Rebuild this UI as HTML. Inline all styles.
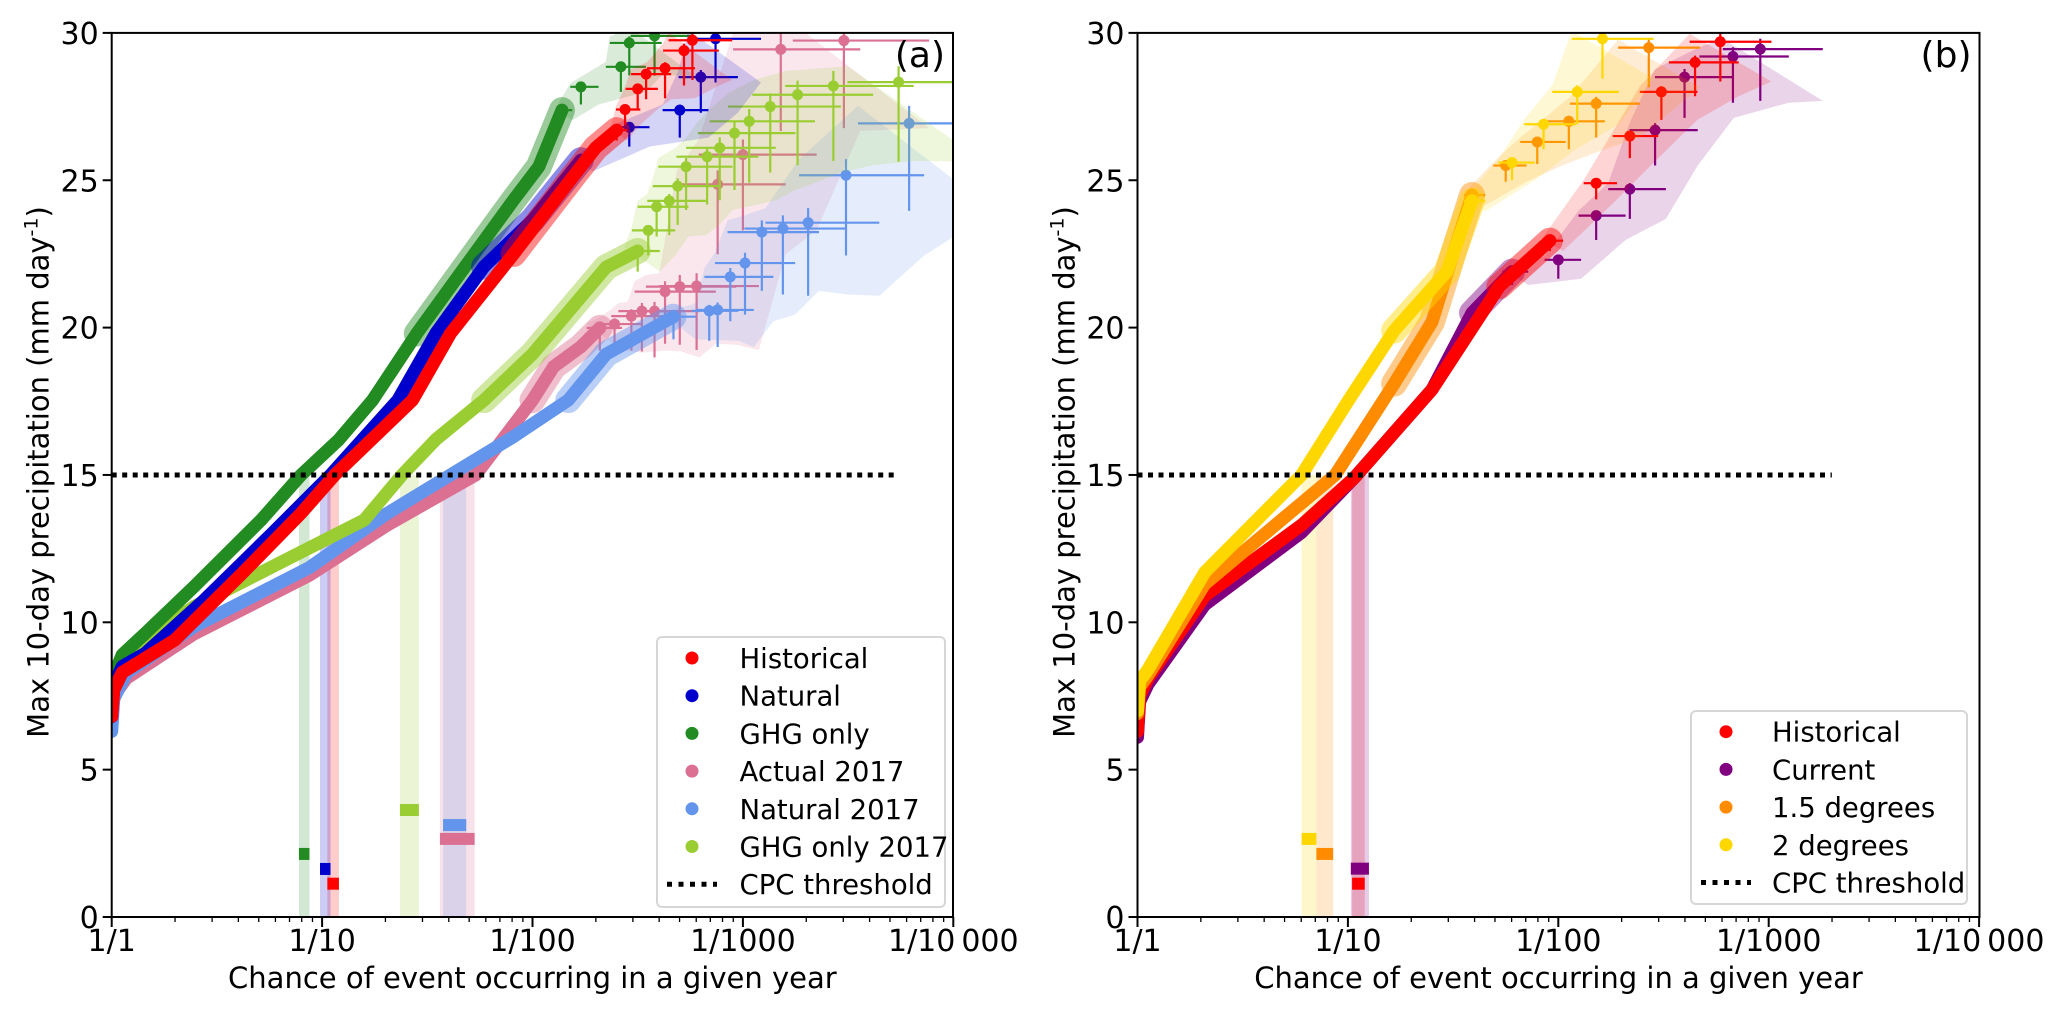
<!DOCTYPE html>
<html><head><meta charset="utf-8">
<style>
html,body{margin:0;padding:0;background:#fff;}
svg{display:block;font-family:"DejaVu Sans","Liberation Sans",sans-serif;}
</style></head>
<body>
<svg id="fig" width="2067" height="1018" viewBox="0 0 2067 1018" xmlns="http://www.w3.org/2000/svg">
<defs>
<clipPath id="clipA"><rect x="111.7" y="33" width="841.3" height="884"/></clipPath>
<clipPath id="clipB"><rect x="1137.5" y="33" width="842" height="884"/></clipPath>
</defs>
</svg>
<script>
// ---------- data: x = log10(return period), y = mm/day ----------
const xTickLabels = ["1/1","1/10","1/100","1/1000","1/10\u2009000"];
const yTickValues = [0,5,10,15,20,25,30];
const threshold = 15;

// Panel (a)
const histA_lp = [0,0.01,0.05,0.3,0.62,0.9,1.06,1.43,1.61,1.91,2.19,2.3,2.4,2.44,2.5,2.54,2.63,2.72,2.76];
const histA_v  = [6.8,7.7,8.3,9.4,11.66,13.7,15,17.54,19.8,22.5,25.1,26.1,26.7,27.4,28.1,28.6,28.8,29.4,29.75];
const natA_lp  = [0,0.01,0.05,0.16,0.44,0.76,1.04,1.36,1.54,1.77,2.0,2.23,2.46,2.7,2.8,2.87];
const natA_v   = [6.8,7.9,8.5,8.95,10.76,13.0,15.0,17.54,19.8,22.07,23.65,25.68,26.8,27.38,28.5,29.8];
const ghgA_lp  = [0,0.01,0.05,0.16,0.39,0.71,0.9,1.08,1.24,1.45,1.68,1.91,2.03,2.14,2.23,2.42,2.46,2.58];
const ghgA_v   = [7.4,8.2,8.9,9.63,11.2,13.47,15,16.2,17.54,19.8,22.07,24.33,25.46,27.38,28.17,28.85,29.66,29.9];
const act17_lp = [0,0.01,0.07,0.39,0.94,1.31,1.73,2.0,2.1,2.23,2.32,2.39,2.47,2.52,2.58,2.63,2.70,2.78,2.88,3.0,3.18,3.48];
const act17_v  = [6.6,7.5,8.1,9.6,11.6,13.3,15,17.54,18.67,19.35,19.99,20.12,20.39,20.56,20.56,21.22,21.39,21.41,24.86,25.87,29.44,29.74];
const nat17_lp = [0,0.01,0.07,0.39,0.94,1.31,1.61,1.91,2.17,2.35,2.67,2.84,2.88,2.94,3.01,3.09,3.19,3.31,3.49,3.79];
const nat17_v  = [6.3,7.4,8.28,9.85,11.86,13.7,15,16.3,17.54,19.1,20.37,20.57,20.6,21.72,22.19,23.24,23.36,23.56,25.17,26.93];
const ghg17_lp = [0,0.01,0.07,0.39,0.85,1.2,1.38,1.54,1.77,2.0,2.35,2.5,2.55,2.59,2.65,2.69,2.73,2.83,2.89,2.96,3.03,3.13,3.26,3.43,3.74];
const ghg17_v  = [7.2,8.0,8.95,10.53,12.2,13.47,15,16.2,17.54,19.1,22.05,22.6,23.3,24.1,24.3,24.8,25.46,25.8,26.1,26.6,27.0,27.5,27.9,28.2,28.33];

// Panel (b)
const histB_lp = [0,0.01,0.05,0.32,0.78,1.03,1.4,1.72,1.96,2.18,2.34,2.49,2.65,2.77];
const histB_v  = [6.3,7.5,8.1,10.9,13.3,14.9,17.9,21.4,22.95,24.9,26.5,28.0,29.0,29.7];
const cur_lp   = [0,0.01,0.05,0.32,0.78,1.03,1.4,1.59,1.78,2.0,2.18,2.34,2.46,2.6,2.83,2.96];
const cur_v    = [6.1,7.3,7.9,10.6,13.05,14.9,17.9,20.5,21.9,22.3,23.8,24.7,26.7,28.5,29.2,29.45];
const d15_lp   = [0,0.01,0.05,0.32,0.94,1.22,1.4,1.5,1.59,1.75,1.9,2.05,2.18,2.43];
const d15_v    = [6.9,7.8,8.2,11.3,15,18.1,20.2,22.5,24.5,25.5,26.3,27.0,27.6,29.5];
const d2_lp    = [0,0.01,0.05,0.32,0.78,1.0,1.22,1.47,1.59,1.78,1.93,2.09,2.21];
const d2_v     = [7.0,8.0,8.4,11.7,15,17.5,19.9,21.9,24.3,25.6,26.9,28,29.8];

// threshold-crossing markers [lpLow, lpHigh, y]
const markA_lo = [1.025,0.99,0.89,1.56,1.575,1.37];
const markA_hi = [1.08,1.04,0.94,1.725,1.685,1.46];
const markA_y  = [1.13,1.63,2.14,2.65,3.12,3.63];
const markB_lo = [1.02,1.014,0.85,0.78];
const markB_hi = [1.08,1.1,0.93,0.85];
const markB_y  = [1.13,1.64,2.14,2.65];

// ---------- layout ----------
const SVGNS="http://www.w3.org/2000/svg";
const svg=document.getElementById('fig');
const Y0=917, PXU=29.47, DEC=210.4;
const panels=[{x0:111.7,x1:953,clip:'clipA'},{x0:1137.5,x1:1979.5,clip:'clipB'}];
function X(p,lp){return p.x0+lp*DEC;}
function Yv(v){return Y0-v*PXU;}
function mk(tag,attrs,parent){const e=document.createElementNS(SVGNS,tag);for(const k in attrs)e.setAttribute(k,attrs[k]);(parent||svg).appendChild(e);return e;}

function drawSeries(p,g,lp,v,color,tailIdx,eH,eV,name,haloFrom){
  const sg=mk('g',{},g);
  
  
  const n=lp.length;
  const grow=t=>0.35+1.0*t;
  // uncertainty envelope
  let up=[],lo=[];
  for(let i=tailIdx;i<n;i++){
    const t=(i-tailIdx)/Math.max(1,n-1-tailIdx);
    const hw=eH*grow(t), vw=eV*grow(t);
    up.push(X(p,lp[i]-hw*0.6)+','+Yv(v[i]+vw*0.2));
    lo.unshift(X(p,lp[i]+hw)+','+Yv(v[i]-vw));
  }
  const env=mk('polygon',{points:up.concat(lo).join(' '),fill:color,'fill-opacity':0.17,stroke:'none'},sg);
  
  
  // halo of dense error bars along the upper thick section
  const hp=[];for(let i=0;i<=tailIdx&&i<n;i++)if(v[i]>=haloFrom)hp.push(X(p,lp[i])+','+Yv(v[i]));
  if(hp.length>1){
    const h=mk('polyline',{points:hp.join(' '),fill:'none',stroke:color,'stroke-width':26,'stroke-opacity':0.45,'stroke-linejoin':'round','stroke-linecap':'round'},sg);
    
    
  }
  // error bars
  for(let i=tailIdx;i<n;i++){
    const t=(i-tailIdx)/Math.max(1,n-1-tailIdx);
    const hw=eH*grow(t), vw=eV*grow(t);
    const x=X(p,lp[i]), y=Yv(v[i]);
    const eb=mk('path',{d:`M${X(p,lp[i]-hw*0.6)},${y}H${X(p,lp[i]+hw)}M${x},${Yv(v[i]+vw*0.2)}V${Yv(v[i]-vw)}`,stroke:color,'stroke-width':2.2,fill:'none'},sg);
    
    
  }
  // main thick curve
  const pts=[];for(let i=0;i<=tailIdx&&i<n;i++)pts.push(X(p,lp[i])+','+Yv(v[i]));
  const pl=mk('polyline',{points:pts.join(' '),fill:'none',stroke:color,'stroke-width':13,'stroke-linejoin':'round','stroke-linecap':'round'},sg);
  
  
  for(let i=tailIdx;i<n;i++){
    const c=mk('circle',{cx:X(p,lp[i]),cy:Yv(v[i]),r:5.5,fill:color},sg);
    
    
  }
}

function drawMarkers(p,g,lo,hi,yy,colors,bandTop,name){
  for(let i=0;i<lo.length;i++){
    const b=mk('rect',{x:X(p,lo[i]),y:Yv(bandTop),width:X(p,hi[i])-X(p,lo[i]),height:Yv(0)-Yv(bandTop),fill:colors[i],'fill-opacity':0.2},g);
    
    
  }
  for(let i=0;i<lo.length;i++){
    const m=mk('rect',{x:X(p,lo[i]),y:Yv(yy[i])-6,width:X(p,hi[i])-X(p,lo[i]),height:12,fill:colors[i]},g);
    
    
  }
}

function drawAxes(p,label){
  const ax=mk('g',{});
  
  
  const fr=mk('rect',{x:p.x0,y:Yv(30),width:p.x1-p.x0,height:Yv(0)-Yv(30),fill:'none',stroke:'#000','stroke-width':2},ax);
  
  
  yTickValues.forEach(v=>{
    mk('line',{x1:p.x0-9,x2:p.x0,y1:Yv(v),y2:Yv(v),stroke:'#000','stroke-width':2},ax);
    const t=mk('text',{x:p.x0-13,y:Yv(v)+11,'font-size':30,'text-anchor':'end',fill:'#000'},ax);
    t.textContent=v;
    
    
  });
  xTickLabels.forEach((s,d)=>{
    const x=X(p,d);
    mk('line',{x1:x,x2:x,y1:Y0,y2:Y0+10,stroke:'#000','stroke-width':2},ax);
    const t=mk('text',{x:x,y:951,'font-size':30,'text-anchor':'middle',fill:'#000'},ax);
    t.textContent=s;
    
    
    if(d<4)for(let k=2;k<10;k++){const xm=X(p,d+Math.log10(k));mk('line',{x1:xm,x2:xm,y1:Y0,y2:Y0+5,stroke:'#000','stroke-width':1.3},ax);}
  });
  const xl=mk('text',{x:(p.x0+p.x1)/2,y:988,'font-size':29,'text-anchor':'middle',fill:'#000'},ax);
  xl.textContent='Chance of event occurring in a given year';
  
  
  const yx=p.x0-63;
  const yl=mk('text',{x:yx,y:472,'font-size':29,'text-anchor':'middle',fill:'#000',transform:`rotate(-90 ${yx} 472)`},ax);
  yl.innerHTML='Max 10-day precipitation (mm day<tspan dy="-11" font-size="19">-1</tspan><tspan dy="11">)</tspan>';
  
  
  const pl=mk('text',{x:p.x1-8,y:67,'font-size':36,'text-anchor':'end',fill:'#000'},ax);
  pl.textContent='('+label+')';
  
  
}

function drawThreshold(p,g,endLp){
  const l=mk('line',{x1:p.x0,x2:X(p,endLp),y1:Yv(threshold),y2:Yv(threshold),stroke:'#000','stroke-width':5,'stroke-dasharray':'5 5.5'},g);
  
  
}

function drawLegend(x,y,w,h,rowY0,names,colors,mx,tx){
  const g=mk('g',{});
  
  
  mk('rect',{x:x,y:y,width:w,height:h,rx:5,fill:'#fff','fill-opacity':0.85,stroke:'#d6d6d6','stroke-width':2},g);
  names.forEach((n,i)=>{
    const yy=rowY0+i*37.7;
    const eg=mk('g',{},g);
    
    
    if(colors[i]==='dots'){
      mk('line',{x1:mx-25,x2:mx+25,y1:yy,y2:yy,stroke:'#000','stroke-width':5,'stroke-dasharray':'5 6.5'},eg);
    } else mk('circle',{cx:mx,cy:yy,r:6.5,fill:colors[i]},eg);
    const t=mk('text',{x:tx,y:yy+10,'font-size':27.5,fill:'#000'},eg);
    t.textContent=n;
  });
}

// ---------- panel a ----------
const pA=panels[0];
const gA=mk('g',{'clip-path':'url(#clipA)'});


drawMarkers(pA,gA,markA_lo,markA_hi,markA_y,['#ff0000','#0000cd','#228b22','#db7093','#6495ed','#9acd32'],15,'a');
drawSeries(pA,gA,act17_lp,act17_v,'#db7093',10,0.3,2.2,'actual-2017',17);
drawSeries(pA,gA,nat17_lp,nat17_v,'#6495ed',10,0.3,2.2,'natural-2017',17);
drawSeries(pA,gA,ghg17_lp,ghg17_v,'#9acd32',11,0.3,2.0,'ghg-only-2017',17);
drawSeries(pA,gA,ghgA_lp,ghgA_v,'#228b22',13,0.14,1.0,'ghg-only',19);
drawSeries(pA,gA,natA_lp,natA_v,'#0000cd',11,0.16,1.1,'natural',20);
drawSeries(pA,gA,histA_lp,histA_v,'#ff0000',12,0.14,1.0,'historical',20);
drawThreshold(pA,gA,3.73);
drawAxes(pA,'a');
drawLegend(657,637,288,270,658,['Historical','Natural','GHG only','Actual 2017','Natural 2017','GHG only 2017','CPC threshold'],['#ff0000','#0000cd','#228b22','#db7093','#6495ed','#9acd32','dots'],692,739.5);

// ---------- panel b ----------
const pB=panels[1];
const gB=mk('g',{'clip-path':'url(#clipB)'});


drawMarkers(pB,gB,markB_lo,markB_hi,markB_y,['#ff0000','#800080','#ff8c00','#ffd700'],15,'b');
drawSeries(pB,gB,cur_lp,cur_v,'#800080',8,0.22,1.3,'current',18);
drawSeries(pB,gB,histB_lp,histB_v,'#ff0000',8,0.18,1.0,'historical-b',18);
drawSeries(pB,gB,d15_lp,d15_v,'#ff8c00',8,0.18,1.0,'1-5-degrees',18);
drawSeries(pB,gB,d2_lp,d2_v,'#ffd700',8,0.18,1.0,'2-degrees',18);
drawThreshold(pB,gB,3.3);
drawAxes(pB,'b');
drawLegend(1691,711,276,193,731.7,['Historical','Current','1.5  degrees','2  degrees','CPC threshold'],['#ff0000','#800080','#ff8c00','#ffd700','dots'],1726,1772);
</script>
</body></html>
